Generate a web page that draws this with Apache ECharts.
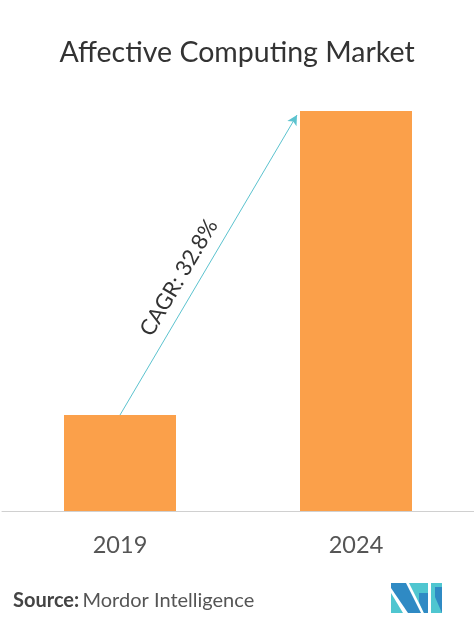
<!DOCTYPE html>
<html>
<head>
<meta charset="utf-8">
<script src="https://cdn.jsdelivr.net/npm/echarts@6/dist/echarts.min.js"></script>
<style>
  html, body { margin: 0; padding: 0; background: #fff; }
  #chart { width: 474px; height: 628px; }
</style>
</head>
<body>
<div id="chart"></div>
<script>
// data
const years = ['2019', '2024'];
const marketSize = [24, 100]; // relative size, 2024 = 100
const cagrLabel = 'CAGR: 32.8%';
// arrow from top of 2019 bar to the top corner of 2024 bar (x on hidden value axis)
const arrowFrom = [0, 24];
const arrowTo = [0.75, 99];

const chart = echarts.init(document.getElementById('chart'));

const blue = '#2f8ac4';
const teal = '#4fc6d0';

chart.setOption({
  backgroundColor: '#fff',
  animation: false,
  title: {
    text: 'Affective Computing Market',
    left: 'center',
    top: 33,
    textStyle: { fontFamily: 'Lato', fontWeight: 'normal', fontSize: 28.5, color: '#333' },
  },
  grid: { left: 2, right: 0, top: 111, bottom: 117 },
  xAxis: [
    {
      type: 'category',
      data: years,
      axisLine: { lineStyle: { color: '#d0d0d0', width: 1 } },
      axisTick: { show: false },
      axisLabel: { fontFamily: 'Lato', fontSize: 23.5, color: '#555', margin: 22 },
    },
    { type: 'value', min: -0.5, max: 1.5, show: false },
  ],
  yAxis: { type: 'value', min: 0, max: 100, show: false },
  series: [
    {
      type: 'bar',
      data: marketSize,
      barWidth: 112,
      itemStyle: { color: '#fba04a' },
      silent: true,
    },
    {
      // carrier for the CAGR arrow
      type: 'line',
      xAxisIndex: 1,
      data: [],
      markLine: {
        silent: true,
        symbol: ['none', 'arrow'],
        symbolSize: [8, 10],
        lineStyle: { color: '#5cc3cf', width: 1, type: 'solid' },
        label: {
          show: true,
          position: 'middle',
          formatter: cagrLabel,
          fontFamily: 'Lato',
          fontSize: 22,
          color: '#333',
          distance: 8,
          padding: [0, 52, 0, 0],
        },
        data: [[{ coord: arrowFrom }, { coord: arrowTo }]],
      },
    },
  ],
  graphic: [
    {
      type: 'text',
      left: 13,
      top: 591,
      style: {
        text: '{b|Source:} {r|Mordor Intelligence}',
        rich: {
          b: { fontFamily: 'Lato', fontWeight: 'bold', fontSize: 20, fill: '#444' },
          r: { fontFamily: 'Lato', fontSize: 20, fill: '#555' },
        },
      },
    },
    {
      // logo
      type: 'group',
      left: 391,
      top: 583,
      children: [
        { type: 'polygon', shape: { points: [[0, 10], [0, 30], [12, 30]] }, style: { fill: teal } },
        { type: 'polygon', shape: { points: [[0, 0], [15, 0], [30, 30], [17, 30], [0, 5]] }, style: { fill: blue } },
        { type: 'polygon', shape: { points: [[18, 0], [37, 0], [37, 30], [33, 30]] }, style: { fill: teal } },
        { type: 'polygon', shape: { points: [[28, 10], [37, 10], [37, 30], [33, 30], [28, 19]] }, style: { fill: blue } },
        { type: 'polygon', shape: { points: [[40, 0], [51, 0], [51, 30], [40, 30]] }, style: { fill: teal } },
        { type: 'polygon', shape: { points: [[44, 4], [51, 4], [51, 30], [44, 14]] }, style: { fill: blue } },
      ],
    },
  ],
});
</script>
</body>
</html>
